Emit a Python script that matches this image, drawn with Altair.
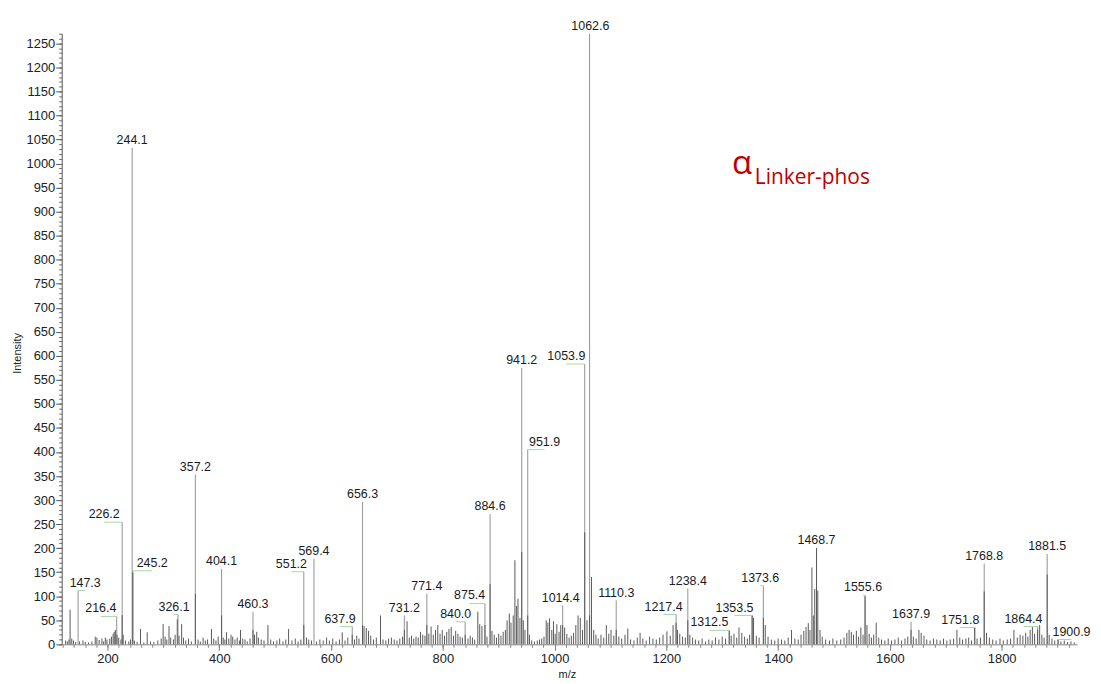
import altair as alt
import pandas as pd

# ---- labelled (centroid) peaks ----
peak_mz = [147.3, 216.4, 226.2, 244.1, 245.2, 326.1, 357.2, 404.1, 460.3, 551.2,
           569.4, 637.9, 656.3, 731.2, 771.4, 840.0, 875.4, 884.6, 941.2, 951.9,
           1014.4, 1053.9, 1062.6, 1110.3, 1217.4, 1238.4, 1312.5, 1353.5, 1373.6, 1468.7,
           1555.6, 1637.9, 1751.8, 1768.8, 1864.4, 1881.5, 1900.9]
peak_int = [112, 58, 254, 1033, 153, 62, 353, 157, 68, 151,
            178, 37, 296, 60, 105, 47, 85, 271, 575, 405,
            80, 583, 1270, 91, 62, 116, 29, 60, 122, 200,
            102, 47, 35, 168, 37, 188, 10]
peak_text = ["147.3", "216.4", "226.2", "244.1", "245.2", "326.1", "357.2", "404.1", "460.3", "551.2",
             "569.4", "637.9", "656.3", "731.2", "771.4", "840.0", "875.4", "884.6", "941.2", "951.9",
             "1014.4", "1053.9", "1062.6", "1110.3", "1217.4", "1238.4", "1312.5", "1353.5", "1373.6", "1468.7",
             "1555.6", "1637.9", "1751.8", "1768.8", "1864.4", "1881.5", "1900.9"]
# m/z at which each label is centred (labels moved aside are joined by a connector)
label_mz = [160, 188, 194, 244.1, 280, 319, 357.2, 404.1, 460.3, 529,
            569.4, 616, 656.3, 731.2, 771.4, 823, 848, 884.6, 941.2, 982,
            1011, 1021, 1064, 1110.3, 1195, 1238.4, 1277, 1322, 1368, 1468.7,
            1552, 1637.9, 1726, 1768.8, 1839, 1881.5, 1925]

# ---- profile / unlabelled peaks ----
noise_mz = [125, 128, 131, 133, 136, 139, 143, 150, 156, 160, 166, 172, 178, 181, 185, 190, 193, 196, 199,
            204, 207, 210, 212, 214, 217, 220, 224, 226.2, 228, 232, 238, 241, 245.2, 248, 253, 259, 265,
            271, 277, 283, 290, 296, 299.5, 303, 306, 310, 313, 318, 321, 324.8, 328, 332.6, 336, 340, 345,
            350, 357.2, 362, 366, 371, 375, 379, 386, 390, 394, 398, 404.1, 407, 410, 413, 417, 421, 424,
            428, 432, 436, 438, 442, 446, 450, 455, 460.3, 463, 467, 470, 475, 480, 487, 492, 497, 503, 508,
            514, 519, 524, 530, 536, 541, 546, 551.2, 556, 560, 565, 574, 580, 586, 592, 597, 603, 609, 615,
            620, 625, 630, 637.9, 642, 646, 650, 656.3, 659, 663, 667, 671, 676, 681, 688.5, 693, 698, 703,
            708, 713, 718, 723, 728, 731.2, 736, 740, 744, 748, 752, 756, 760, 764, 768, 771.4, 775, 779,
            783, 787, 791, 795, 799, 803, 807, 811, 815, 819, 823, 827, 831, 835, 840, 845, 849, 853, 857,
            862.6, 866, 870, 875.4, 879, 884.6, 888, 892, 896, 900, 904, 908, 912, 915, 919, 922, 926, 929,
            932, 934.5, 938, 941.2, 944, 947, 951.9, 955, 959, 964, 969, 973, 977, 981, 985, 988, 991, 995,
            998, 1001, 1004, 1008, 1011, 1014.4, 1018, 1022, 1026, 1030, 1034, 1038, 1042, 1046, 1050,
            1053.9, 1058, 1062.6, 1066, 1070, 1074, 1078, 1083, 1088, 1092.6, 1097, 1101, 1106, 1110.3,
            1115, 1120, 1126, 1131, 1136, 1142, 1148, 1153, 1158, 1164, 1170, 1176, 1182, 1188, 1194, 1201,
            1207, 1212, 1217.4, 1220, 1224, 1229, 1234, 1238.4, 1242, 1247, 1252, 1258, 1264, 1270, 1276,
            1282, 1288, 1294, 1300, 1306, 1312.5, 1316, 1321, 1326, 1330, 1335, 1340, 1345, 1349, 1353.5,
            1356, 1361, 1366, 1373.6, 1377, 1382, 1388, 1394, 1400, 1406, 1412, 1418, 1424, 1430, 1436,
            1441, 1446, 1450, 1454, 1457, 1460.5, 1463, 1465.5, 1468.7, 1471, 1475, 1479, 1485, 1492, 1498,
            1505, 1512, 1518, 1523, 1527, 1531, 1535, 1540, 1544, 1548, 1552, 1555.6, 1559, 1563, 1567,
            1571, 1575.5, 1580, 1585, 1591, 1597, 1603, 1609, 1615, 1621, 1627, 1632, 1637.9, 1642, 1647,
            1652, 1656, 1661, 1666, 1672, 1678, 1684, 1690, 1696, 1702, 1708, 1714, 1720, 1725, 1730, 1736,
            1741, 1746, 1751.8, 1756, 1762, 1768.8, 1773, 1778, 1784, 1790, 1797, 1803, 1810, 1816, 1822,
            1828, 1833, 1838, 1843, 1847, 1851, 1855, 1859, 1864.4, 1868, 1872, 1876, 1881.5, 1885, 1890,
            1895, 1900.9, 1906, 1912, 1918, 1924, 1930]
noise_int = [8, 6, 10, 72, 12, 8, 5, 6, 8, 5, 4, 6, 16, 14, 9, 12, 6, 14, 10,
             12, 16, 22, 26, 30, 20, 14, 10, 61, 20, 8, 6, 10, 150, 8, 5, 32, 4,
             25, 6, 5, 8, 12, 42, 16, 10, 38, 14, 10, 20, 52, 18, 42, 14, 8, 12,
             6, 105, 10, 6, 14, 8, 10, 32, 12, 8, 16, 60, 14, 10, 25, 12, 20, 16,
             10, 14, 8, 30, 12, 10, 6, 12, 30, 20, 26, 14, 10, 8, 40, 10, 6, 8, 12,
             6, 10, 32, 8, 12, 6, 10, 40, 14, 10, 8, 6, 10, 8, 14, 8, 12, 6, 10,
             25, 8, 14, 20, 10, 18, 12, 40, 38, 34, 28, 18, 10, 14, 60, 10, 8, 12,
             14, 10, 8, 12, 16, 30, 48, 14, 18, 12, 16, 14, 26, 20, 18, 40, 22, 37,
             20, 30, 40, 22, 30, 18, 26, 32, 36, 18, 28, 22, 16, 14, 20, 12, 18, 14, 10,
             68, 42, 38, 40, 16, 125, 28, 20, 14, 22, 18, 26, 30, 50, 64, 45, 60, 175,
             80, 95, 55, 192, 50, 30, 60, 20, 8, 6, 8, 10, 12, 16, 50, 45, 54, 30,
             48, 22, 42, 26, 40, 40, 35, 22, 14, 18, 24, 40, 60, 55, 30,
             233, 50, 60, 140, 30, 20, 12, 20, 14, 40, 22, 30, 18, 30,
             16, 12, 20, 33, 10, 8, 14, 24, 12, 8, 16, 12, 10, 14, 20, 27,
             18, 40, 45, 30, 22, 16, 14, 50, 20, 14, 10, 8, 12, 6, 10,
             8, 14, 10, 16, 12, 29, 18, 22, 14, 35, 24, 16, 12, 20, 60,
             55, 18, 14, 55, 40, 16, 10, 8, 12, 10, 8, 14, 30, 12, 10,
             20, 28, 36, 44, 30, 160, 60, 115, 200, 112, 30, 16, 10, 8, 12,
             8, 10, 14, 24, 30, 26, 20, 28, 16, 35, 20, 100, 40, 22, 14,
             20, 45, 14, 10, 8, 12, 8, 10, 14, 8, 12, 16, 30, 16, 12,
             30, 24, 18, 10, 8, 12, 10, 8, 12, 8, 10, 12, 30, 14, 10, 12,
             14, 8, 35, 12, 14, 110, 24, 14, 10, 8, 12, 8, 10, 12, 30,
             14, 20, 18, 24, 16, 30, 36, 22, 30, 40, 20, 14, 145, 20, 12,
             8, 10, 6, 8, 5, 6, 4]

x_major = [200, 400, 600, 800, 1000, 1200, 1400, 1600, 1800]
y_major = list(range(0, 1251, 50))
x_minor = list(range(120, 1935, 20))
y_minor = list(range(0, 1271, 10))

anno_main = ["α"]
anno_sub = ["Linker-phos"]

FONT = "Liberation Sans"

peaks = pd.DataFrame({"mz": peak_mz, "intensity": peak_int, "label": peak_text, "label_mz": label_mz})
noise = pd.DataFrame({"mz": noise_mz, "intensity": noise_int})
moved = peaks[(peaks["label_mz"] - peaks["mz"]).abs() > 2.5]

xs = alt.Scale(domain=[118, 1935], nice=False, zero=False)
ys = alt.Scale(domain=[0, 1270], nice=False)

light = alt.Chart(peaks).mark_rule(color="#9c9c9c", strokeWidth=1.1).encode(
    x=alt.X("mz:Q", scale=xs, axis=alt.Axis(
        values=x_major, format="d", title="m/z", orient="bottom", tickSize=6, labelPadding=2,
        labelFontSize=13, labelFont=FONT, labelColor="#222", tickColor="#777",
        domainColor="#888", titleFont=FONT, titleFontSize=11, titleFontWeight="normal",
        titleColor="#222", titleX=508, titleY=30, titleBaseline="middle")),
    y=alt.Y("intensity:Q", scale=ys, axis=alt.Axis(
        values=y_major, format="d", title="Intensity", orient="left", tickSize=6, labelPadding=1,
        labelFontSize=13, labelFont=FONT, labelColor="#222", tickColor="#555",
        domainColor="#555", titleFont=FONT, titleFontSize=11, titleFontWeight="normal",
        titleColor="#222", titleX=-44, titleY=321, titleAlign="center",
        titleBaseline="middle")),
    y2=alt.datum(0),
)

dark = alt.Chart(noise).mark_rule(color="#5a5a5a", strokeWidth=1).encode(
    x=alt.X("mz:Q", scale=xs, axis=alt.Axis(
        values=x_minor, labels=False, title=None, orient="bottom", tickSize=3,
        tickColor="#888", domain=False)),
    y=alt.Y("intensity:Q", scale=ys, axis=alt.Axis(
        values=y_minor, labels=False, title=None, orient="left", tickSize=3,
        tickColor="#666", domain=False)),
    y2=alt.datum(0),
)

connectors = alt.Chart(moved).mark_rule(color="#a8d8a8", strokeWidth=1).encode(
    x=alt.X("label_mz:Q", scale=xs, axis=None),
    x2="mz:Q",
    y=alt.Y("intensity:Q", scale=ys, axis=None),
)

labels = alt.Chart(peaks).mark_text(
    font=FONT, fontSize=12.5, color="#1a1a1a", baseline="alphabetic", dy=-4
).encode(
    x=alt.X("label_mz:Q", scale=xs, axis=None),
    y=alt.Y("intensity:Q", scale=ys, axis=None),
    text="label:N",
)

alpha = alt.Chart(pd.DataFrame({"t": anno_main})).mark_text(
    font="Open Sans", fontSize=33, color="#c00000", align="left", baseline="alphabetic"
).encode(text="t:N", x=alt.value(674), y=alt.value(141))

sub = alt.Chart(pd.DataFrame({"t": anno_sub})).mark_text(
    font="Open Sans", fontSize=21, color="#c00000", align="left", baseline="alphabetic"
).encode(text="t:N", x=alt.value(697), y=alt.value(151))

chart = alt.layer(light, dark, connectors, labels, alpha, sub).resolve_axis(
    x="independent", y="independent"
).properties(
    width=1021, height=614,
    autosize=alt.AutoSizeParams(type="none"),
    padding={"left": 54, "top": 24, "right": 16, "bottom": 34},
).configure_view(strokeWidth=0).configure_axis(grid=False)

chart.save("out.html", embed_options={"renderer": "svg", "actions": False})
